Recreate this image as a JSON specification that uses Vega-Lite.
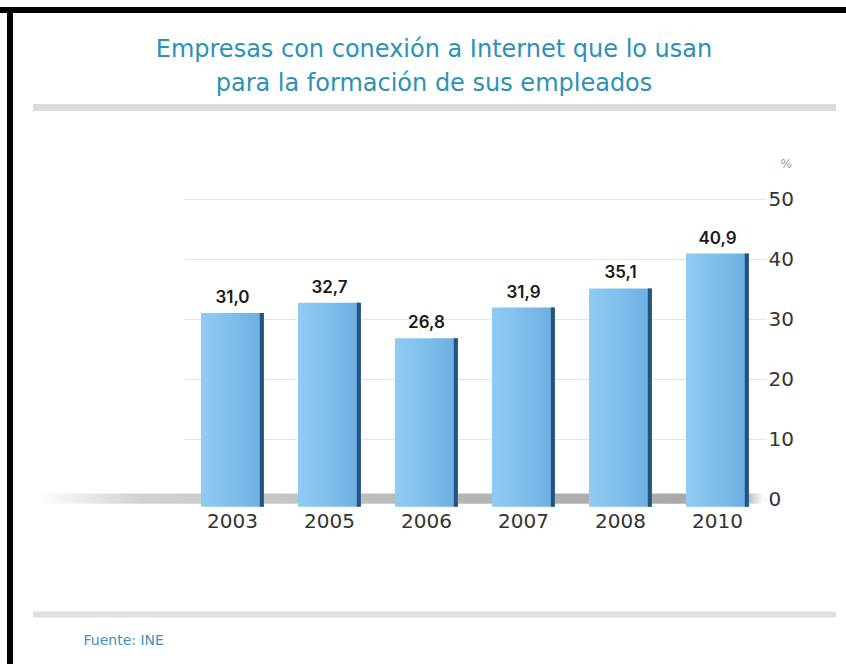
{
  "$schema": "https://vega.github.io/schema/vega-lite/v6.json",
  "width": 582,
  "height": 300,
  "autosize": "none",
  "padding": {"left": 184, "top": 199, "right": 80, "bottom": 165},
  "background": "#ffffff",
  "config": {"view": {"stroke": null}},
  "title": {
    "text": ["Empresas con conexión a Internet que lo usan", "para la formación de sus empleados"],
    "font": "DejaVu Sans",
    "fontSize": 24,
    "fontWeight": "normal",
    "color": "#2c91b7",
    "anchor": "middle",
    "frame": "group",
    "dx": -41,
    "offset": -89,
    "lineHeight": 34
  },
  "resolve": {"scale": {"x": "independent"}},
  "layer": [
    {
      "data": {"values": [{}]},
      "layer": [
        {
          "mark": {"type": "rect", "color": "#000000"},
          "encoding": {
            "x": {"datum": -184, "type": "quantitative", "scale": {"domain": [0, 582], "nice": false, "zero": false}, "axis": null},
            "x2": {"datum": 662},
            "y": {"datum": 82, "type": "quantitative", "scale": {"domain": [0, 50], "nice": false}},
            "y2": {"datum": 81}
          }
        },
        {
          "mark": {"type": "rect", "color": "#000000"},
          "encoding": {
            "x": {"datum": -177, "type": "quantitative", "scale": {"domain": [0, 582], "nice": false, "zero": false}, "axis": null},
            "x2": {"datum": -171},
            "y": {"datum": 82, "type": "quantitative", "scale": {"domain": [0, 50], "nice": false}},
            "y2": {"datum": -30}
          }
        },
        {
          "mark": {"type": "rule", "color": "#dcdcdc", "strokeWidth": 7},
          "encoding": {
            "x": {"datum": -151, "type": "quantitative", "scale": {"domain": [0, 582], "nice": false, "zero": false}, "axis": null},
            "x2": {"datum": 652},
            "y": {"datum": 65.25, "type": "quantitative", "scale": {"domain": [0, 50], "nice": false}}
          }
        },
        {
          "mark": {"type": "rule", "color": "#e0e0e0", "strokeWidth": 6},
          "encoding": {
            "x": {"datum": -151, "type": "quantitative", "scale": {"domain": [0, 582], "nice": false, "zero": false}, "axis": null},
            "x2": {"datum": 652},
            "y": {"datum": -19.25, "type": "quantitative", "scale": {"domain": [0, 50], "nice": false}}
          }
        },
        {
          "mark": {
            "type": "rect",
            "color": {
              "gradient": "linear", "x1": 0, "x2": 1, "y1": 0, "y2": 0,
              "stops": [
                {"offset": 0, "color": "#ffffff"},
                {"offset": 0.14, "color": "#d2d2d2"},
                {"offset": 0.6, "color": "#b4b4b4"},
                {"offset": 0.97, "color": "#a6a6a6"},
                {"offset": 1, "color": "#ffffff"}
              ]
            }
          },
          "encoding": {
            "x": {"datum": -147, "type": "quantitative", "scale": {"domain": [0, 582], "nice": false, "zero": false}, "axis": null},
            "x2": {"datum": 580},
            "y": {"datum": 0.9, "type": "quantitative", "scale": {"domain": [0, 50], "nice": false}},
            "y2": {"datum": -0.8}
          }
        }
      ]
    },
    {
      "data": {
        "values": [
          {"year": "2003", "value": 31.0, "label": "31,0"},
          {"year": "2005", "value": 32.7, "label": "32,7"},
          {"year": "2006", "value": 26.8, "label": "26,8"},
          {"year": "2007", "value": 31.9, "label": "31,9"},
          {"year": "2008", "value": 35.1, "label": "35,1"},
          {"year": "2010", "value": 40.9, "label": "40,9"}
        ]
      },
      "encoding": {
        "x": {
          "field": "year",
          "type": "ordinal",
          "scale": {"paddingInner": 0.35, "paddingOuter": 0.175},
          "axis": {
            "title": "Fuente: INE",
            "titleX": -101,
            "titleY": 141,
            "titleAlign": "left",
            "titleBaseline": "middle",
            "titleAnchor": "start",
            "titleFont": "DejaVu Sans",
            "titleFontSize": 14,
            "titleFontWeight": "normal",
            "titleColor": "#3f8fc0",
            "labelFont": "DejaVu Sans",
            "labelFontSize": 20,
            "labelColor": "#333333",
            "labelPadding": 12,
            "labelAngle": 0,
            "domain": false,
            "ticks": false
          }
        },
        "y": {
          "field": "value",
          "type": "quantitative",
          "scale": {"domain": [0, 50], "nice": false},
          "axis": {
            "orient": "right",
            "title": "%",
            "titleAngle": 0,
            "titleX": 14,
            "titleY": -36,
            "titleAlign": "left",
            "titleBaseline": "middle",
            "titleFont": "DejaVu Sans",
            "titleFontSize": 12,
            "titleFontWeight": "normal",
            "titleColor": "#999999",
            "labelFont": "DejaVu Sans",
            "labelFontSize": 20,
            "labelColor": "#333333",
            "labelPadding": 2,
            "labelAlign": "left",
            "domain": false,
            "ticks": false,
            "values": [0, 10, 20, 30, 40, 50],
            "grid": true,
            "gridColor": "#e4e4e4"
          }
        }
      },
      "layer": [
        {
          "mark": {
            "type": "bar",
            "color": {
              "gradient": "linear", "x1": 0, "x2": 1, "y1": 0, "y2": 0,
              "stops": [
                {"offset": 0, "color": "#90cbf2"},
                {"offset": 0.5, "color": "#7fbeeb"},
                {"offset": 1, "color": "#6badE1"}
              ]
            }
          },
          "encoding": {"y2": {"datum": -1.3}}
        },
        {
          "mark": {"type": "rule", "color": "#24527f", "strokeWidth": 4},
          "encoding": {
            "x": {"field": "year", "type": "ordinal", "bandPosition": 0.965},
            "y2": {"datum": -1.3}
          }
        },
        {
          "mark": {"type": "text", "baseline": "bottom", "dy": -6, "font": "Inter", "fontWeight": 600, "fontSize": 17, "color": "#1a1a1a"},
          "encoding": {"text": {"field": "label"}}
        }
      ]
    }
  ]
}
